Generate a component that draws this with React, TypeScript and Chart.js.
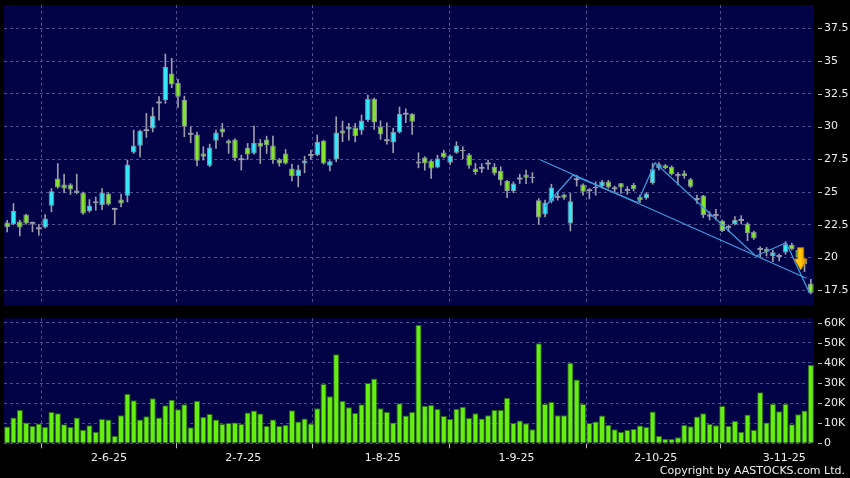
import React, { useEffect, useRef } from 'react';
import { Chart, registerables } from 'chart.js';

Chart.register(...registerables);

// ---- Data (daily candles, index 0 = first trading day shown) ----
const openPx = [
  22.67, 22.54, 22.75, 23.28, 22.65, 22.24, 22.29, 23.95, 26.03, 25.58,
  25.58, 24.91, 24.96, 23.56, 24.15, 24.0, 24.89, 23.72, 24.43, 24.71,
  28.02, 28.53, 29.73, 29.86, 31.84, 32.02, 34.06, 33.35, 32.02, 29.45,
  29.4, 27.95, 27.0, 28.91, 29.86, 28.94, 29.02, 27.51, 28.38, 27.95,
  28.76, 29.02, 28.56, 27.49, 27.95, 26.8, 26.21, 27.18, 27.84, 27.82,
  28.91, 27.0, 27.49, 29.7, 29.78, 29.93, 29.7, 30.49, 32.12, 29.98,
  28.96, 28.79, 29.55, 30.98, 30.98, 27.33, 27.64, 27.39, 26.88, 28.02,
  27.23, 28.0, 28.23, 27.87, 26.8, 26.85, 27.18, 26.93, 26.62, 25.86,
  25.09, 26.03, 26.34, 26.06, 24.38, 23.28, 24.28, 24.63, 24.81, 22.6,
  25.98, 25.58, 25.14, 25.4, 25.46, 25.8, 25.29, 25.67, 25.08, 25.54,
  24.65, 24.52, 25.67, 26.81, 27.04, 26.94, 26.38, 26.43, 25.97, 24.47,
  24.73, 23.12, 23.25, 22.82, 22.41, 22.56, 22.87, 22.61, 21.98, 20.66,
  20.68, 20.12, 20.12, 20.38, 20.96, 20.6, 19.8, 18.03,
];
const highPx = [
  22.85, 24.12, 22.85, 23.3, 22.72, 22.54, 23.28, 25.27, 27.18, 26.37,
  25.65, 26.37, 25.0, 24.43, 24.63, 25.27, 24.95, 23.77, 24.84, 27.44,
  29.73, 29.73, 31.0, 31.46, 32.28, 35.54, 35.21, 33.6, 32.33, 29.98,
  29.58, 28.46, 28.66, 29.73, 30.24, 29.0, 29.07, 27.82, 28.71, 30.03,
  29.02, 29.27, 29.27, 27.56, 28.25, 27.13, 27.05, 27.74, 28.2, 29.35,
  28.96, 27.41, 30.75, 30.42, 30.24, 30.24, 30.88, 32.4, 32.17, 30.44,
  30.29, 29.88, 31.49, 31.36, 31.0, 28.0, 27.7, 27.44, 27.82, 28.2,
  27.85, 28.84, 28.46, 27.95, 27.18, 27.18, 27.44, 27.18, 26.93, 25.9,
  25.78, 26.37, 26.67, 26.49, 24.51, 24.38, 25.6, 25.02, 24.85, 24.89,
  26.29, 25.62, 25.27, 25.78, 25.9, 25.9, 25.46, 25.67, 25.41, 25.67,
  24.78, 24.95, 27.19, 27.25, 27.1, 27.0, 26.48, 26.63, 26.05, 24.78,
  24.75, 23.5, 23.68, 22.87, 22.49, 23.12, 23.2, 22.67, 22.03, 20.83,
  20.78, 20.58, 20.27, 21.22, 21.08, 20.7, 19.94, 18.34,
];
const lowPx = [
  21.96, 22.5, 21.65, 22.55, 21.96, 21.7, 22.25, 23.49, 25.3, 24.94,
  24.81, 24.88, 23.3, 23.46, 23.61, 23.66, 24.0, 22.52, 23.87, 24.25,
  27.95, 27.69, 29.17, 29.6, 30.49, 31.77, 32.96, 31.46, 29.22, 28.76,
  27.0, 27.44, 26.93, 28.33, 29.22, 27.95, 27.39, 26.67, 27.49, 27.9,
  27.18, 27.95, 27.18, 26.98, 27.13, 25.86, 25.4, 26.47, 27.49, 27.77,
  27.13, 26.62, 27.31, 28.84, 28.96, 28.84, 29.4, 30.37, 29.78, 29.02,
  28.66, 28.0, 29.5, 30.3, 29.4, 26.85, 26.67, 26.04, 26.85, 27.6,
  27.1, 27.95, 27.54, 26.8, 26.34, 26.49, 26.72, 26.29, 25.53, 24.58,
  24.94, 25.65, 25.65, 25.7, 22.54, 23.1, 24.17, 24.38, 24.43, 22.03,
  25.45, 24.76, 24.48, 24.76, 25.3, 25.29, 25.03, 24.9, 24.83, 25.08,
  24.19, 24.45, 25.6, 26.69, 26.76, 26.3, 25.54, 26.05, 25.34, 24.14,
  23.05, 22.87, 22.87, 21.98, 21.98, 22.49, 22.56, 21.29, 21.39, 20.07,
  20.12, 19.69, 19.74, 20.25, 20.58, 19.9, 18.92, 17.22,
];
const closePx = [
  22.34, 23.56, 22.29, 22.6, 22.65, 22.24, 22.98, 25.07, 25.35, 25.27,
  25.19, 25.12, 23.36, 23.97, 24.3, 24.96, 24.05, 23.72, 24.12, 27.1,
  28.56, 29.68, 29.73, 30.82, 31.84, 34.57, 33.22, 32.28, 29.98, 29.45,
  27.39, 27.69, 28.4, 29.55, 29.55, 28.71, 27.61, 27.51, 27.87, 28.76,
  28.46, 28.58, 27.44, 27.18, 27.18, 26.21, 26.72, 27.41, 27.84, 28.84,
  27.18, 27.36, 29.55, 29.47, 29.96, 29.27, 30.47, 32.12, 30.32, 29.4,
  28.96, 29.6, 30.98, 30.98, 30.37, 27.18, 27.18, 26.8, 27.56, 27.64,
  27.79, 28.56, 28.12, 27.0, 26.54, 26.85, 27.18, 26.42, 25.91, 25.09,
  25.65, 26.03, 26.09, 26.16, 23.05, 24.2, 25.35, 24.63, 24.56, 24.3,
  25.98, 25.02, 25.14, 25.3, 25.8, 25.36, 25.29, 25.34, 25.26, 25.21,
  24.4, 24.9, 26.74, 27.12, 26.84, 26.38, 26.18, 26.23, 25.41, 24.47,
  23.25, 23.3, 23.25, 22.03, 22.23, 22.87, 22.87, 21.85, 21.47, 20.66,
  20.45, 20.4, 20.12, 21.01, 20.63, 20.0, 19.5, 17.32,
];
// volume in thousands of shares
const volumeK = [
  8.3, 12.9, 16.6, 10.3, 8.6, 9.8, 8.1, 15.6, 14.9, 9.5,
  8.1, 12.9, 6.8, 9.0, 5.8, 12.1, 11.9, 3.6, 13.9, 24.7,
  21.4, 11.9, 13.4, 22.4, 12.9, 18.9, 21.7, 16.9, 19.4, 8.0,
  21.2, 13.1, 14.6, 11.9, 9.6, 10.1, 10.4, 9.6, 15.3, 16.3,
  14.8, 8.6, 11.8, 8.6, 9.1, 16.4, 10.9, 12.4, 9.8, 17.4,
  29.5, 23.4, 44.3, 21.2, 17.9, 15.1, 19.4, 30.0, 32.2, 17.4,
  15.6, 10.3, 19.9, 13.8, 15.6, 58.9, 18.7, 19.1, 17.1, 13.6,
  12.1, 17.2, 18.2, 12.6, 14.9, 12.3, 13.9, 16.6, 16.6, 22.6,
  10.1, 11.4, 10.0, 7.0, 49.8, 19.6, 20.6, 13.9, 13.9, 40.1,
  31.8, 19.6, 10.1, 10.9, 13.8, 9.1, 7.0, 5.6, 6.6, 7.1,
  8.8, 8.1, 15.8, 3.6, 2.3, 2.2, 3.0, 9.1, 8.5, 13.3,
  14.9, 9.6, 9.0, 18.6, 8.6, 11.1, 5.8, 14.3, 6.6, 25.4,
  10.4, 19.7, 15.9, 19.6, 9.5, 14.4, 16.3, 39.0,
];

const xTickLabels = ['2-6-25', '2-7-25', '1-8-25', '1-9-25', '2-10-25', '3-11-25'];
const xTickIndex = [16.1, 37.3, 59.35, 80.5, 102.5, 122.8];
const priceTicks = [17.5, 20, 22.5, 25, 27.5, 30, 32.5, 35, 37.5];
const volumeTicks = [0, 10000, 20000, 30000, 40000, 50000, 60000];

const trendLineA = [
  { x: 84.3, y: 27.45 },
  { x: 126.3, y: 18.42 },
];
const trendLineB = [
  { x: 85.0, y: 23.9 },
  { x: 89.4, y: 26.3 },
  { x: 99.6, y: 24.19 },
  { x: 102.4, y: 27.24 },
  { x: 118.3, y: 20.12 },
  { x: 123.1, y: 21.13 },
  { x: 126.8, y: 17.27 },
];
const arrowMark = { x: 125.4, top: 20.75, neck: 19.89, tip: 19.05 };

// ---- Styling ----
const NAVY = '#020247';
const GRID = '#4e4e90';
const TEXT = '#eeeeee';
const UP = '#35e6f6';
const DOWN = '#84e32c';
const FLAT = '#9c9cac';
const FONT = { family: 'DejaVu Sans', size: 11 };

const navyBg = {
  id: 'navyBg',
  beforeDraw(chart: any) {
    const { ctx, chartArea: a } = chart;
    ctx.save();
    ctx.fillStyle = NAVY;
    ctx.fillRect(a.left, a.top, a.right - a.left, a.bottom - a.top);
    ctx.restore();
  },
};

const rightTicks = {
  id: 'rightTicks',
  afterDraw(chart: any) {
    const { ctx, chartArea: a } = chart;
    const ys = chart.scales.y;
    ctx.save();
    ctx.strokeStyle = '#bbbbbb';
    ctx.lineWidth = 1;
    ys.ticks.forEach((t: any) => {
      const py = Math.round(ys.getPixelForValue(t.value)) + 0.5;
      ctx.beginPath();
      ctx.moveTo(a.right + 4, py);
      ctx.lineTo(a.right + 8, py);
      ctx.stroke();
    });
    ctx.restore();
  },
};

const arrowPlugin = {
  id: 'arrowPlugin',
  afterDatasetsDraw(chart: any) {
    const { ctx } = chart;
    const xs = chart.scales.x;
    const ys = chart.scales.y;
    const cx = xs.getPixelForValue(arrowMark.x);
    const yTop = ys.getPixelForValue(arrowMark.top);
    const yNeck = ys.getPixelForValue(arrowMark.neck);
    const yTip = ys.getPixelForValue(arrowMark.tip);
    const sw = 3;
    const hw = 6.5;
    ctx.save();
    const g = ctx.createLinearGradient(cx - hw, 0, cx + hw, 0);
    g.addColorStop(0, '#ffd23a');
    g.addColorStop(0.5, '#ffc400');
    g.addColorStop(1, '#d88c00');
    ctx.fillStyle = g;
    ctx.strokeStyle = '#b87400';
    ctx.lineWidth = 1;
    ctx.beginPath();
    ctx.moveTo(cx - sw, yTop);
    ctx.lineTo(cx + sw, yTop);
    ctx.lineTo(cx + sw, yNeck);
    ctx.lineTo(cx + hw, yNeck);
    ctx.lineTo(cx, yTip);
    ctx.lineTo(cx - hw, yNeck);
    ctx.lineTo(cx - sw, yNeck);
    ctx.closePath();
    ctx.fill();
    ctx.stroke();
    ctx.restore();
  },
};

const zeroPad = (s: any) => {
  s.paddingTop = 0;
  s.paddingBottom = 0;
  s.paddingLeft = 0;
  s.paddingRight = 0;
};

function xScaleBase(showLabels: boolean, height: number) {
  return {
    type: 'linear' as const,
    min: -0.5,
    max: 127.5,
    offset: false,
    afterBuildTicks: (s: any) => {
      s.ticks = xTickIndex.map((v) => ({ value: v }));
    },
    afterFit: (s: any) => {
      s.height = height;
      zeroPad(s);
    },
    ticks: {
      display: showLabels,
      autoSkip: false,
      maxRotation: 0,
      color: TEXT,
      font: FONT,
      padding: 3,
      callback: (v: any) => {
        const k = xTickIndex.indexOf(Number(v));
        return k >= 0 ? xTickLabels[k] : '';
      },
    },
    grid: {
      color: GRID,
      drawTicks: showLabels,
      tickLength: 5,
      tickColor: '#bbbbbb',
      tickBorderDash: [],
    },
    border: { display: false, dash: [3, 3] },
  };
}

function yScaleBase(min: number, max: number, ticks: number[], fmt: (v: number) => string) {
  return {
    position: 'right' as const,
    min,
    max,
    afterBuildTicks: (s: any) => {
      s.ticks = ticks.map((v) => ({ value: v }));
    },
    afterFit: (s: any) => {
      s.width = 36;
      zeroPad(s);
    },
    ticks: {
      color: TEXT,
      font: FONT,
      padding: 10,
      callback: (v: any) => fmt(Number(v)),
    },
    grid: { color: GRID, drawTicks: false },
    border: { display: false, dash: [3, 3] },
  };
}

export default function App() {
  const priceRef = useRef<HTMLCanvasElement>(null);
  const volRef = useRef<HTMLCanvasElement>(null);

  useEffect(() => {
    document.body.style.margin = '0';
    document.body.style.background = '#000';
    const idx = openPx.map((_, i) => i);

    const bodies = idx.map((i) => {
      const o = openPx[i];
      const c = closePx[i];
      if (o === c) return { x: i, y: [c - 0.07, c + 0.07] };
      return { x: i, y: [Math.min(o, c), Math.max(o, c)] };
    });
    const bodyColors = idx.map((i) =>
      openPx[i] === closePx[i] ? FLAT : closePx[i] > openPx[i] ? UP : DOWN
    );
    const bodyBorderW = idx.map((i) => (openPx[i] === closePx[i] ? 0 : 1));
    const wicks = idx.map((i) => ({ x: i, y: [lowPx[i], highPx[i]] }));

    const priceChart = new Chart(priceRef.current!, {
      type: 'bar',
      data: {
        datasets: [
          {
            type: 'line',
            data: trendLineA,
            borderColor: '#3d9bdb',
            borderWidth: 1.3,
            pointRadius: 0,
            tension: 0,
            order: 0,
          } as any,
          {
            type: 'line',
            data: trendLineB,
            borderColor: '#3d9bdb',
            borderWidth: 1.3,
            pointRadius: 0,
            tension: 0,
            order: 0,
          } as any,
          {
            data: bodies as any,
            backgroundColor: bodyColors,
            borderColor: '#8c96a4',
            borderWidth: bodyBorderW,
            borderSkipped: false,
            grouped: false,
            barPercentage: 0.88,
            categoryPercentage: 1,
            order: 1,
          } as any,
          {
            data: wicks as any,
            backgroundColor: FLAT,
            borderWidth: 0,
            grouped: false,
            barThickness: 1,
            order: 2,
          } as any,
        ],
      },
      options: {
        responsive: false,
        animation: false,
        devicePixelRatio: 1,
        layout: { padding: { left: 4, top: 5, right: 0, bottom: 7 } },
        plugins: { legend: { display: false }, tooltip: { enabled: false } },
        scales: {
          x: xScaleBase(false, 0) as any,
          y: yScaleBase(16.38, 39.28, priceTicks, (v) => String(v)) as any,
        },
      },
      plugins: [navyBg, rightTicks, arrowPlugin],
    });

    const volChart = new Chart(volRef.current!, {
      type: 'bar',
      data: {
        datasets: [
          {
            data: idx.map((i) => ({ x: i, y: volumeK[i] * 1000 })) as any,
            backgroundColor: '#66ee11',
            borderColor: '#2c6a10',
            borderWidth: 1,
            barPercentage: 0.97,
            categoryPercentage: 1,
          } as any,
        ],
      },
      options: {
        responsive: false,
        animation: false,
        devicePixelRatio: 1,
        layout: { padding: { left: 4, top: 6.3, right: 0, bottom: 0 } },
        plugins: { legend: { display: false }, tooltip: { enabled: false } },
        scales: {
          x: xScaleBase(true, 34.7) as any,
          y: yScaleBase(0, 62200, volumeTicks, (v) => (v === 0 ? '0' : v / 1000 + 'K')) as any,
        },
      },
      plugins: [navyBg, rightTicks],
    });

    return () => {
      priceChart.destroy();
      volChart.destroy();
    };
  }, []);

  return (
    <div style={{ position: 'relative', width: 850, height: 478, background: '#000', overflow: 'hidden' }}>
      <canvas ref={priceRef} width={850} height={312} style={{ position: 'absolute', left: 0, top: 0, display: 'block' }} />
      <canvas ref={volRef} width={850} height={166} style={{ position: 'absolute', left: 0, top: 312, display: 'block' }} />
      <div
        style={{
          position: 'absolute',
          right: 5,
          top: 464,
          color: TEXT,
          fontFamily: 'DejaVu Sans',
          fontSize: 11,
          lineHeight: '13px',
          whiteSpace: 'nowrap',
        }}
      >
        Copyright by AASTOCKS.com Ltd.
      </div>
    </div>
  );
}
